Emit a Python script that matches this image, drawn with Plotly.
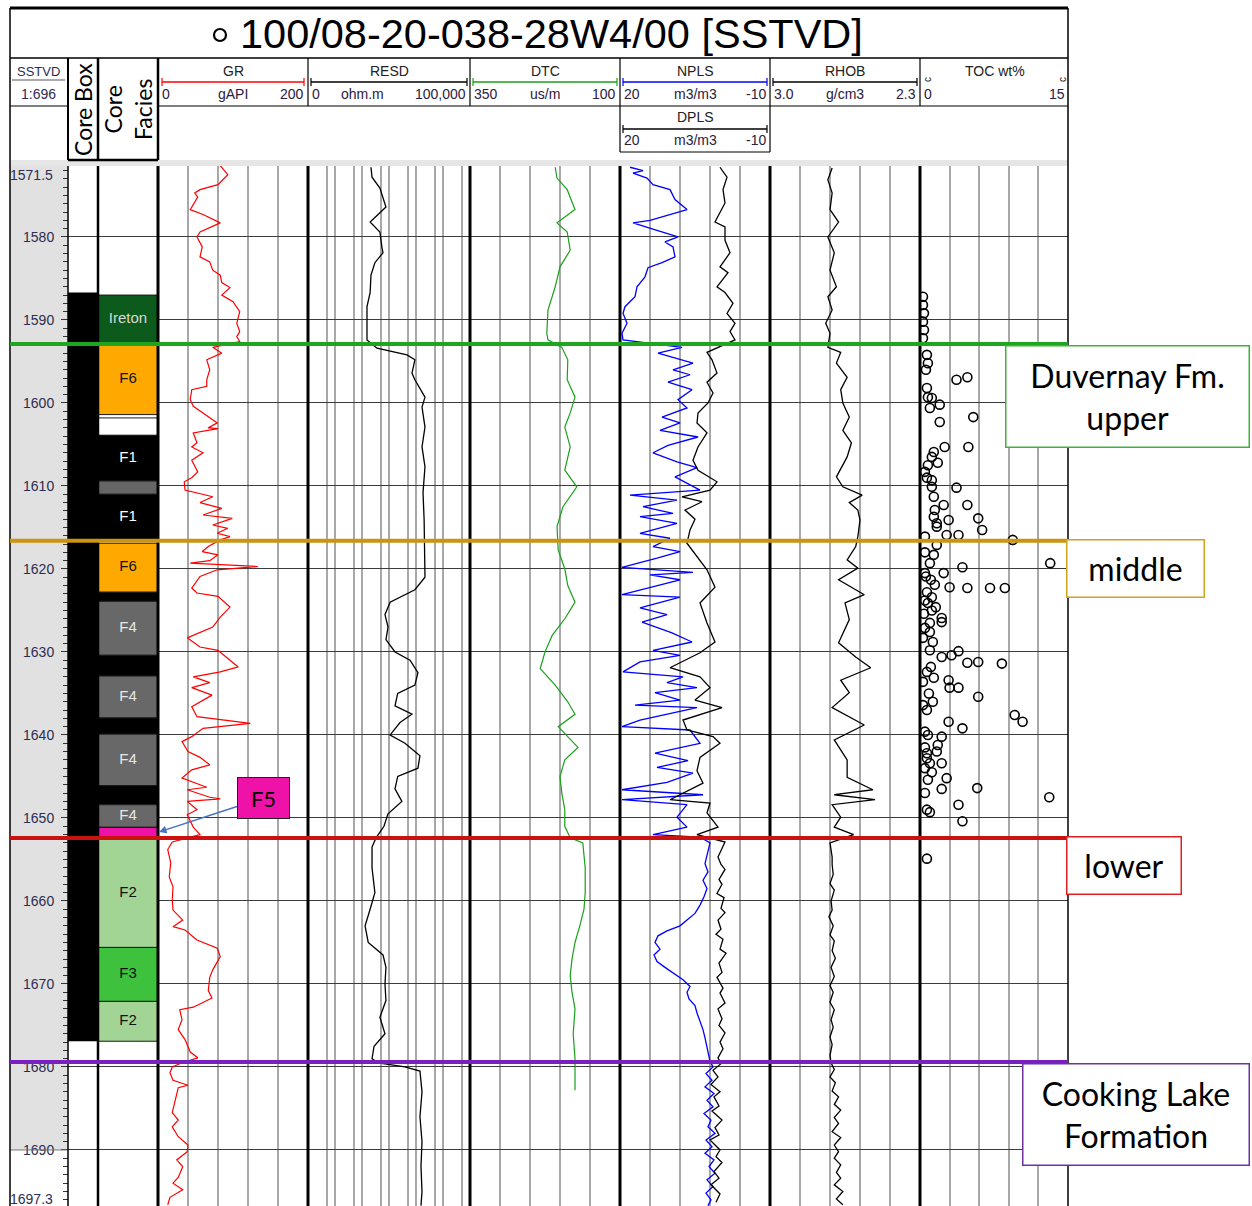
import plotly.graph_objects as go

# ------------------------------------------------------------------
# Well 100/08-20-038-28W4/00 : log tracks vs sub-sea TVD (m)
# ------------------------------------------------------------------

# Gamma ray (gAPI) sampled against depth (m)
gr_samples = [
    (1571.4, 83), (1572.5, 93), (1573.7, 80), (1574.3, 56), (1574.7, 49), (1575.2, 53),
    (1576.7, 43), (1577.3, 60), (1578.3, 83), (1579.4, 56), (1580.0, 52), (1581.2, 59),
    (1582.4, 56), (1583.0, 69), (1584.0, 73), (1584.6, 83), (1585.5, 85), (1586.1, 96),
    (1587.0, 85), (1587.8, 100), (1589.0, 109), (1590.4, 105), (1591.4, 109), (1592.0, 105),
    (1592.6, 109), (1593.3, 73), (1594.0, 85), (1594.8, 65), (1596.0, 69), (1597.2, 65),
    (1598.0, 65), (1598.4, 45), (1599.6, 43), (1600.4, 47), (1601.2, 60), (1602.4, 79),
    (1603.0, 67), (1603.1, 80), (1603.6, 47), (1604.8, 52), (1605.3, 45), (1606.0, 60),
    (1606.9, 45), (1608.3, 53), (1609.0, 45), (1609.5, 35), (1610.5, 36), (1611.1, 63),
    (1611.3, 73), (1612.0, 56), (1612.7, 85), (1613.5, 60), (1613.9, 99), (1614.7, 73),
    (1615.1, 93), (1615.7, 79), (1616.1, 96), (1616.5, 83), (1617.3, 67), (1617.9, 59),
    (1618.3, 80), (1619.0, 69), (1619.3, 43), (1619.7, 133), (1620.1, 79), (1620.9, 56),
    (1622.3, 45), (1622.9, 52), (1623.3, 80), (1624.6, 96), (1625.8, 83), (1627.0, 73),
    (1628.3, 39), (1629.4, 56), (1629.8, 80), (1631.0, 96), (1631.8, 107), (1632.4, 83),
    (1633.0, 47), (1633.7, 69), (1634.3, 45), (1635.2, 72), (1636.6, 45), (1637.8, 52),
    (1638.6, 123), (1639.2, 60), (1640.2, 45), (1640.8, 32), (1642.0, 40), (1642.7, 56),
    (1643.6, 69), (1644.2, 45), (1645.2, 32), (1646.3, 65), (1646.6, 39), (1647.5, 69),
    (1647.7, 83), (1648.0, 39), (1649.0, 52), (1649.6, 39), (1651.1, 47), (1652.0, 56),
    (1652.6, 32), (1652.9, 19), (1653.8, 13), (1655.4, 17), (1657.1, 15), (1658.3, 20),
    (1659.9, 19), (1661.1, 20), (1662.3, 33), (1663.1, 20), (1663.5, 36), (1664.7, 52),
    (1665.7, 79), (1666.7, 83), (1668.3, 73), (1669.2, 69), (1670.8, 67), (1671.7, 72),
    (1672.8, 47), (1673.1, 29), (1674.3, 32), (1675.5, 27), (1676.7, 36), (1678.2, 43),
    (1678.9, 53), (1679.5, 32), (1680.0, 19), (1680.7, 16), (1681.6, 20), (1682.2, 40),
    (1682.5, 27), (1684.0, 23), (1685.5, 19), (1686.4, 27), (1687.2, 19), (1688.4, 27),
    (1689.4, 40), (1690.2, 39), (1691.2, 25), (1692.0, 33), (1693.3, 27), (1694.0, 20),
    (1694.8, 33), (1695.7, 16), (1696.6, 13),
]

# Deep resistivity (ohm.m)
resd_samples = [
    (1571.6, 21.5), (1572.8, 23.5), (1574.1, 46), (1576.4, 77), (1578.2, 20), (1579.4, 46),
    (1581.3, 55), (1581.9, 60), (1583.1, 30), (1584.6, 21.5), (1586.7, 20), (1588.4, 15.3),
    (1592.4, 15.3), (1593.4, 36), (1594.2, 465), (1594.8, 910), (1596.4, 710), (1597.2, 910),
    (1599.3, 2150), (1600.5, 1670), (1602.9, 2150), (1605.3, 1670), (1607.7, 2150),
    (1610.8, 1820), (1614.1, 2000), (1618.6, 2150), (1621.0, 2150), (1622.5, 910),
    (1624.0, 110), (1625.5, 71), (1627.0, 92), (1628.5, 77), (1630.0, 167), (1631.0, 600),
    (1632.5, 1180), (1634.0, 910), (1635.0, 210), (1636.5, 167), (1637.5, 710), (1638.5, 256),
    (1640.0, 110), (1641.0, 390), (1642.5, 1400), (1644.0, 1180), (1645.0, 210), (1646.5, 167),
    (1648.0, 300), (1649.5, 92), (1651.0, 65), (1652.4, 33), (1653.5, 23.5), (1656.0, 23.5),
    (1659.0, 30), (1661.0, 20), (1663.0, 13), (1665.0, 17), (1666.5, 60), (1668.0, 77),
    (1670.0, 71), (1672.0, 77), (1674.0, 46), (1676.0, 71), (1677.5, 28), (1679.0, 23.5),
    (1679.5, 40), (1680.0, 390), (1680.5, 1400), (1683.0, 1670), (1686.0, 1400),
    (1689.0, 1670), (1692.0, 1530), (1695.0, 1670), (1696.7, 1530),
]

# Compressional slowness (us/m)
dtc_samples = [
    (1571.6, 208), (1572.9, 205), (1574.3, 188), (1576.7, 175), (1578.3, 205), (1579.4, 188),
    (1581.6, 183), (1583.6, 200), (1586.0, 208), (1588.8, 220), (1591.6, 222), (1592.4, 220),
    (1593.3, 197), (1594.8, 187), (1597.2, 188), (1599.3, 175), (1601.2, 183), (1602.9, 192),
    (1605.3, 183), (1608.1, 192), (1610.1, 172), (1612.5, 195), (1614.9, 205), (1617.7, 203),
    (1620.0, 192), (1622.0, 187), (1624.0, 175), (1626.0, 192), (1628.0, 213), (1630.0, 225),
    (1632.0, 233), (1634.0, 208), (1636.0, 187), (1637.5, 175), (1639.0, 203), (1640.5, 183),
    (1641.5, 170), (1643.0, 192), (1645.0, 200), (1647.0, 197), (1649.0, 192), (1651.0, 192),
    (1652.4, 183), (1653.0, 162), (1656.0, 158), (1659.0, 158), (1661.0, 160), (1663.0, 167),
    (1665.0, 175), (1667.0, 180), (1669.0, 183), (1671.0, 180), (1673.0, 175), (1676.0, 178),
    (1679.0, 175), (1681.0, 175), (1682.8, 175),
]

# Neutron porosity, limestone (m3/m3 x100)
npls_samples = [
    (1571.6, 18.0), (1572.0, 15.4), (1572.3, 17.4), (1572.9, 14.6), (1573.7, 13.4), (1574.3, 10.0),
    (1575.5, 9.0), (1576.7, 6.6), (1578.0, 14.0), (1578.3, 17.4), (1579.2, 12.6), (1580.0, 8.4),
    (1580.6, 11.0), (1581.2, 9.4), (1582.4, 9.0), (1583.1, 11.6), (1583.7, 14.4), (1584.8, 15.0),
    (1586.0, 16.6), (1587.2, 17.0), (1588.4, 19.0), (1589.2, 19.4), (1590.4, 18.6), (1591.6, 19.6),
    (1592.4, 19.4), (1593.3, 7.6), (1594.0, 12.4), (1594.8, 7.6), (1595.2, 5.4), (1596.0, 9.4),
    (1596.6, 6.0), (1597.5, 10.4), (1598.4, 5.6), (1599.6, 8.4), (1600.6, 6.6), (1601.7, 11.6),
    (1602.4, 8.0), (1603.3, 12.0), (1604.1, 4.4), (1605.1, 10.4), (1606.0, 13.4), (1607.1, 8.6),
    (1607.8, 4.6), (1608.9, 9.0), (1610.5, 4.0), (1611.1, 18.0), (1611.7, 8.6), (1612.5, 15.4),
    (1613.3, 9.4), (1613.7, 16.0), (1614.5, 8.6), (1615.7, 16.0), (1616.3, 10.0), (1617.3, 13.4),
    (1617.9, 8.0), (1618.7, 12.6), (1619.8, 19.6), (1620.4, 5.4), (1620.7, 14.0), (1621.3, 8.0),
    (1623.1, 19.6), (1623.4, 8.0), (1624.7, 16.0), (1625.5, 10.6), (1626.4, 15.6), (1627.7, 9.6),
    (1628.8, 5.6), (1629.8, 13.4), (1630.4, 8.0), (1631.2, 16.0), (1632.4, 19.4), (1633.0, 7.4),
    (1633.7, 10.6), (1634.3, 4.6), (1634.9, 13.0), (1635.8, 8.0), (1636.4, 17.0), (1636.7, 4.6),
    (1638.2, 16.0), (1639.0, 19.6), (1639.4, 6.0), (1641.0, 4.0), (1642.2, 13.0), (1643.1, 6.4),
    (1643.9, 12.6), (1644.6, 5.4), (1645.7, 10.6), (1646.6, 19.6), (1647.2, 3.4), (1647.8, 19.6),
    (1648.4, 6.6), (1649.9, 8.6), (1651.1, 6.6), (1652.0, 13.4), (1652.3, 4.0), (1653.0, 2.0),
    (1654.7, 2.6), (1655.5, 3.0), (1656.5, 2.4), (1657.5, 3.4), (1658.5, 2.6), (1659.5, 3.2),
    (1660.5, 4.0), (1661.5, 5.0), (1662.3, 6.6), (1663.0, 8.0), (1663.6, 10.6), (1664.2, 12.4),
    (1665.0, 13.0), (1665.8, 12.0), (1666.5, 13.2), (1667.3, 12.6), (1668.0, 11.0), (1668.8, 9.0),
    (1669.5, 7.4), (1670.3, 6.0), (1671.0, 6.6), (1671.8, 6.2), (1672.6, 5.0), (1673.5, 4.6),
    (1674.5, 4.0), (1675.5, 3.4), (1676.5, 3.0), (1677.5, 2.6), (1678.5, 2.2), (1679.3, 2.0),
    (1680.0, 1.4), (1680.8, 2.8), (1681.6, 1.6), (1682.4, 3.0), (1683.2, 1.2), (1684.0, 2.6),
    (1684.8, 1.4), (1685.6, 3.2), (1686.4, 1.8), (1687.2, 2.4), (1688.0, 1.0), (1688.8, 2.8),
    (1689.6, 1.6), (1690.4, 3.0), (1691.2, 1.2), (1692.0, 2.2), (1692.8, 1.0), (1693.6, 2.6),
    (1694.4, 1.4), (1695.2, 2.8), (1696.0, 1.8), (1696.7, 2.4),
]

# Density porosity, limestone (m3/m3 x100)
dpls_samples = [
    (1571.6, 0.0), (1572.8, -1.4), (1574.3, -0.6), (1575.9, -1.0), (1578.2, 1.0), (1578.8, -1.0),
    (1580.4, -1.0), (1581.9, -2.0), (1583.6, 0.0), (1584.3, -1.6), (1586.0, 0.6), (1586.7, -1.0),
    (1588.0, -2.6), (1589.2, -1.4), (1590.4, -3.0), (1591.4, -2.0), (1592.4, -3.0), (1593.9, 2.6),
    (1594.8, 1.6), (1596.4, 0.6), (1597.5, 2.6), (1598.8, 1.4), (1600.0, 2.4), (1601.2, 4.4),
    (1602.4, 4.6), (1603.6, 2.6), (1605.3, 4.4), (1606.9, 5.4), (1608.1, 4.4), (1609.5, 0.6),
    (1610.5, 2.0), (1611.3, 7.6), (1611.9, 3.6), (1612.9, 7.0), (1614.0, 5.0), (1615.3, 6.0),
    (1616.9, 6.6), (1618.9, 4.0), (1620.1, 2.6), (1622.2, 1.0), (1624.1, 4.0), (1626.5, 2.6),
    (1628.8, 1.0), (1630.1, 4.0), (1631.9, 10.0), (1633.0, 4.0), (1634.3, 2.0), (1635.8, 5.0),
    (1636.7, -0.4), (1638.2, 7.4), (1639.4, 6.6), (1640.2, 1.4), (1641.0, 0.0), (1642.7, 4.0),
    (1644.3, 4.6), (1645.8, 3.4), (1647.8, 10.0), (1648.2, 2.0), (1649.4, 2.6), (1651.1, 0.4),
    (1652.0, 4.6), (1652.9, -1.0), (1654.7, 0.4), (1655.6, -0.2), (1656.2, -1.0), (1657.4, 0.2),
    (1658.0, -0.4), (1659.1, 0.6), (1659.6, -0.8), (1660.9, -0.2), (1661.4, -1.0), (1662.3, 0.4),
    (1663.4, -0.2), (1664.0, 0.8), (1664.6, -0.6), (1665.8, 0.0), (1666.3, -1.2), (1667.5, 0.2),
    (1668.6, -0.4), (1669.2, 0.6), (1670.5, -0.6), (1671.1, 0.0), (1672.3, -1.0), (1673.0, 0.4),
    (1674.2, -0.4), (1675.0, 0.2), (1675.9, -1.0), (1677.0, 0.0), (1677.8, -0.6), (1678.9, 0.4),
    (1679.6, -0.2), (1680.4, 1.4), (1681.2, 0.4), (1682.1, 1.8), (1683.0, 0.0), (1683.6, 1.2),
    (1684.7, 0.2), (1685.3, 1.6), (1686.4, -0.4), (1687.3, 1.0), (1688.2, 0.2), (1688.8, 2.0),
    (1690.0, 0.0), (1690.8, 0.8), (1691.5, -0.4), (1692.6, 1.2), (1693.4, 0.2), (1694.2, 1.8),
    (1695.3, 0.0), (1696.3, 0.8),
]

# Bulk density (g/cm3)
rhob_samples = [
    (1571.7, 2.71), (1573.1, 2.73), (1574.7, 2.71), (1576.7, 2.72), (1578.2, 2.68), (1580.0, 2.73),
    (1581.9, 2.70), (1584.0, 2.72), (1586.0, 2.69), (1587.2, 2.73), (1588.8, 2.71), (1590.4, 2.74),
    (1591.6, 2.72), (1593.3, 2.73), (1593.9, 2.67), (1595.2, 2.69), (1596.9, 2.64), (1598.4, 2.67),
    (1600.0, 2.66), (1601.7, 2.63), (1603.3, 2.66), (1604.8, 2.62), (1606.5, 2.64), (1608.9, 2.69),
    (1610.1, 2.66), (1611.1, 2.57), (1612.0, 2.63), (1612.9, 2.59), (1614.1, 2.58), (1616.1, 2.59),
    (1617.3, 2.60), (1618.9, 2.64), (1619.9, 2.59), (1621.3, 2.68), (1623.1, 2.56), (1624.1, 2.65),
    (1626.1, 2.63), (1628.9, 2.68), (1630.6, 2.60), (1631.9, 2.53), (1633.4, 2.67), (1634.9, 2.63),
    (1636.7, 2.71), (1638.8, 2.56), (1640.6, 2.70), (1643.0, 2.64), (1645.1, 2.64), (1646.6, 2.52),
    (1647.2, 2.70), (1647.8, 2.51), (1648.4, 2.71), (1649.9, 2.67), (1651.1, 2.70), (1652.0, 2.61),
    (1653.0, 2.72), (1654.7, 2.71), (1655.6, 2.71), (1656.8, 2.705), (1657.9, 2.72), (1658.7, 2.70),
    (1660.0, 2.715), (1661.1, 2.71), (1661.9, 2.725), (1663.0, 2.705), (1664.1, 2.72), (1664.8, 2.70),
    (1666.0, 2.71), (1666.9, 2.695), (1668.0, 2.715), (1669.1, 2.70), (1670.2, 2.72), (1671.0, 2.705),
    (1672.2, 2.72), (1673.1, 2.70), (1674.3, 2.715), (1675.2, 2.705), (1676.4, 2.72), (1677.3, 2.71),
    (1678.6, 2.72), (1679.5, 2.715), (1680.3, 2.70), (1681.2, 2.72), (1681.9, 2.695), (1682.9, 2.71),
    (1683.6, 2.68), (1684.5, 2.70), (1685.2, 2.67), (1686.1, 2.70), (1686.8, 2.68), (1687.8, 2.71),
    (1688.5, 2.67), (1689.4, 2.70), (1690.2, 2.68), (1691.0, 2.70), (1691.8, 2.67), (1692.7, 2.69),
    (1693.4, 2.67), (1694.2, 2.70), (1695.0, 2.66), (1695.9, 2.69), (1696.6, 2.66),
]

# Core TOC (wt%)
toc_samples = [
    (1587.2, 0.3), (1588.2, 0.3), (1589.2, 0.4), (1590.2, 0.3), (1591.2, 0.4), (1592.2, 0.3),
    (1594.2, 0.7), (1595.2, 0.8), (1596.0, 0.6), (1597.2, 3.7), (1596.9, 4.8), (1598.2, 0.7),
    (1599.3, 0.8), (1599.4, 1.2), (1600.2, 2.0), (1600.6, 1.0), (1601.7, 5.4), (1602.3, 2.0),
    (1605.3, 2.5), (1605.3, 4.9), (1605.9, 1.4), (1606.5, 1.2), (1607.2, 1.8), (1607.5, 0.8),
    (1608.3, 0.5), (1609.0, 0.7), (1609.3, 1.2), (1610.1, 1.2), (1610.2, 3.7), (1611.3, 1.4),
    (1612.3, 4.8), (1612.3, 2.4), (1612.9, 1.5), (1613.7, 1.4), (1614.1, 2.9), (1613.9, 5.9),
    (1614.5, 1.7), (1615.3, 6.3), (1615.9, 2.7), (1615.9, 3.9), (1614.9, 1.7), (1616.1, 0.5),
    (1616.5, 9.4), (1617.1, 1.7), (1618.0, 0.5), (1618.3, 1.4), (1619.3, 1.0), (1619.8, 4.3),
    (1619.3, 13.2), (1620.5, 2.4), (1620.5, 0.5), (1620.9, 0.6), (1621.3, 1.1), (1621.9, 1.5),
    (1622.2, 3.0), (1622.3, 4.8), (1622.3, 7.1), (1622.3, 8.6), (1622.8, 0.7), (1623.4, 1.2),
    (1623.8, 0.5), (1624.1, 0.8), (1624.6, 1.6), (1625.0, 1.2), (1625.4, 0.4), (1625.9, 2.2),
    (1626.4, 2.2), (1626.5, 1.0), (1627.1, 0.5), (1627.6, 1.0), (1628.3, 0.3), (1628.8, 1.3),
    (1629.8, 1.0), (1630.6, 2.2), (1630.4, 3.2), (1629.9, 3.9), (1631.3, 4.8), (1631.2, 5.9),
    (1631.4, 8.3), (1631.8, 1.1), (1632.4, 0.7), (1633.1, 1.4), (1633.6, 0.3), (1633.4, 2.9),
    (1634.3, 3.0), (1634.3, 3.9), (1635.0, 0.9), (1635.4, 5.9), (1636.0, 1.3), (1636.4, 0.3),
    (1637.0, 0.7), (1637.6, 9.6), (1638.4, 10.4), (1638.4, 2.9), (1639.2, 4.3), (1639.6, 0.5),
    (1640.0, 0.8), (1640.2, 2.2), (1641.2, 1.8), (1641.5, 0.5), (1642.0, 1.7), (1642.2, 0.7),
    (1642.8, 0.7), (1643.4, 2.2), (1643.4, 1.0), (1644.0, 0.5), (1644.5, 1.2), (1645.2, 2.7),
    (1645.4, 0.8), (1646.4, 5.8), (1646.5, 2.2), (1647.0, 0.5), (1647.5, 13.1), (1648.4, 3.9),
    (1649.0, 0.7), (1649.3, 1.0), (1650.4, 4.3), (1654.9, 0.7),
]

# Core facies intervals: label, top, base (m)
facies_label = ["Ireton", "F6", "", "F1", "", "F1", "F6", "", "F4", "", "F4", "", "F4", "",
                "F4", "F5", "F2", "F3", "F2"]
facies_top = [1587.0, 1592.9, 1601.8, 1603.9, 1609.4, 1611.0, 1616.9, 1622.8, 1623.9, 1630.4,
              1632.9, 1637.95, 1639.9, 1646.1, 1648.4, 1651.15, 1652.5, 1665.6, 1672.1]
facies_base = [1592.9, 1601.4, 1603.9, 1609.4, 1611.0, 1616.6, 1622.8, 1623.9, 1630.4, 1632.9,
               1637.95, 1639.9, 1646.1, 1648.4, 1651.1, 1652.3, 1665.6, 1672.1, 1676.9]
facies_fill = ["#0c5a1c", "#ffa800", "#ffffff", "#000000", "#666666", "#000000", "#ffa800",
               "#000000", "#686868", "#000000", "#686868", "#000000", "#686868", "#000000",
               "#686868", "#ee12a8", "#a2d495", "#3ec23e", "#a2d495"]
facies_ink = ["#d8d8d8", "#111111", "#111111", "#ffffff", "#ffffff", "#ffffff", "#111111",
              "#ffffff", "#e6e6e6", "#ffffff", "#e6e6e6", "#ffffff", "#e6e6e6", "#ffffff",
              "#e6e6e6", "#111111", "#111111", "#111111", "#111111"]

# Cored interval (core box column)
core_top, core_base = 1586.7, 1676.9

# Formation tops
top_names = ["Duvernay Fm.<br>upper", "middle", "lower", "Cooking Lake<br>Formation"]
top_depths = [1592.9, 1616.6, 1652.4, 1679.4]
top_line_colors = ["#1fa51f", "#c99512", "#cc1111", "#7a1fc0"]
top_box_colors = ["#3cb43c", "#d4a020", "#e02020", "#7030a0"]

depth_ticks = list(range(1580, 1700, 10))

# ------------------------------------------------------------------
W, H = 1252, 1206


def fx(x):
    return x / W


def fy(y):
    return 1 - y / H


DEPTH_RANGE = [1696.75, 1571.45]
PLOT_TOP = 166

# track edges (px)
T_CORE = (68, 98)
T_FAC = (98, 158)
T_GR = (158, 308)
T_RES = (308, 470)
T_DTC = (470, 620)
T_NPL = (620, 770)
T_RHO = (770, 920)
T_TOC = (920, 1068)

HDR_FONT = "Liberation Sans, Arial, sans-serif"
BOX_FONT = "Lato, Open Sans, sans-serif"


def unzip(samples):
    return [s[0] for s in samples], [s[1] for s in samples]


fig = go.Figure()

d, v = unzip(gr_samples)
fig.add_trace(go.Scatter(x=v, y=d, mode="lines", line=dict(color="#ff0000", width=1.2),
                         xaxis="x", yaxis="y", hoverinfo="skip"))
d, v = unzip(resd_samples)
fig.add_trace(go.Scatter(x=v, y=d, mode="lines", line=dict(color="#000000", width=1.3),
                         xaxis="x2", yaxis="y", hoverinfo="skip"))
d, v = unzip(dtc_samples)
fig.add_trace(go.Scatter(x=v, y=d, mode="lines", line=dict(color="#1aa01a", width=1.2),
                         xaxis="x3", yaxis="y", hoverinfo="skip"))
d, v = unzip(npls_samples)
fig.add_trace(go.Scatter(x=v, y=d, mode="lines", line=dict(color="#0000ff", width=1.3),
                         xaxis="x4", yaxis="y", hoverinfo="skip"))
d, v = unzip(dpls_samples)
fig.add_trace(go.Scatter(x=v, y=d, mode="lines", line=dict(color="#000000", width=1.3),
                         xaxis="x5", yaxis="y", hoverinfo="skip"))
d, v = unzip(rhob_samples)
fig.add_trace(go.Scatter(x=v, y=d, mode="lines", line=dict(color="#000000", width=1.3),
                         xaxis="x6", yaxis="y", hoverinfo="skip"))
d, v = unzip(toc_samples)
fig.add_trace(go.Scatter(x=v, y=d, mode="markers",
                         marker=dict(symbol="circle-open", size=9, color="#000000",
                                     line=dict(width=1.6)),
                         xaxis="x7", yaxis="y", hoverinfo="skip"))

# core facies column
fig.add_trace(go.Bar(x=[0] * len(facies_top),
                     y=[b - t for t, b in zip(facies_top, facies_base)],
                     base=facies_top, width=1,
                     marker=dict(color=facies_fill, line=dict(color="#1a1a1a", width=1)),
                     xaxis="x8", yaxis="y", hoverinfo="skip"))
lab_y, lab_t, lab_c = [], [], []
for lab, t, b, c in zip(facies_label, facies_top, facies_base, facies_ink):
    if lab and b - t > 2:
        lab_y.append((t + b) / 2)
        lab_t.append(lab)
        lab_c.append(c)
fig.add_trace(go.Scatter(x=[0] * len(lab_y), y=lab_y, text=lab_t, mode="text",
                         textfont=dict(family=HDR_FONT, size=15, color=lab_c),
                         xaxis="x8", yaxis="y", hoverinfo="skip"))

# core box column
fig.add_trace(go.Bar(x=[0], y=[core_base - core_top], base=[core_top], width=1,
                     marker=dict(color="#000000", line=dict(width=0)),
                     xaxis="x9", yaxis="y", hoverinfo="skip"))


def xax(edges, **kw):
    a = dict(domain=[fx(edges[0]), fx(edges[1])], anchor="y", showticklabels=False,
             ticks="", zeroline=False, showline=False, showgrid=True,
             gridcolor="#a8a8a8", gridwidth=1.5, fixedrange=True)
    a.update(kw)
    return a


fig.update_layout(
    width=W, height=H, margin=dict(l=0, r=0, t=0, b=0),
    paper_bgcolor="white", plot_bgcolor="white", showlegend=False,
    hovermode=False, barmode="overlay",
    xaxis=xax(T_GR, range=[0, 200], tickmode="array", tickvals=[40, 80, 120, 160]),
    xaxis2=xax(T_RES, type="log", range=[-1, 5], tickmode="array",
               tickvals=[0.5, 1, 5, 10, 50, 100, 500, 1000, 5000, 10000, 50000]),
    xaxis3=xax(T_DTC, range=[350, 100], tickmode="array", tickvals=[300, 250, 200, 150]),
    xaxis4=xax(T_NPL, range=[20, -10], tickmode="array", tickvals=[14, 8, 2, -4]),
    xaxis5=dict(overlaying="x4", anchor="y", range=[20, -10], showgrid=False,
                showticklabels=False, ticks="", zeroline=False, showline=False),
    xaxis6=xax(T_RHO, range=[3.0, 2.3], tickmode="array", tickvals=[2.86, 2.72, 2.58, 2.44]),
    xaxis7=xax(T_TOC, range=[0, 15], tickmode="array", tickvals=[3, 6, 9, 12]),
    xaxis8=xax(T_FAC, range=[-0.5, 0.5], showgrid=False),
    xaxis9=xax(T_CORE, range=[-0.5, 0.5], showgrid=False),
    yaxis=dict(domain=[0, fy(PLOT_TOP)], range=DEPTH_RANGE, anchor="free",
               position=fx(68), side="left", tickmode="array", tickvals=depth_ticks,
               ticks="outside", ticklen=7, tickwidth=1.3, tickcolor="#333333",
               minor=dict(tickmode="linear", tick0=1570, dtick=1, ticks="outside",
                          ticklen=5, tickwidth=1, tickcolor="#333333", showgrid=False),
               showgrid=True, gridcolor="#3c3c3c", gridwidth=1.4, zeroline=False,
               showline=False, ticklabelstandoff=4, fixedrange=True,
               tickfont=dict(family=HDR_FONT, size=14, color="#2d2d52")),
)

shapes = []


def line(x0, y0, x1, y1, color="#000", width=1.2, layer="above"):
    shapes.append(dict(type="line", xref="paper", yref="paper", x0=fx(x0), y0=fy(y0),
                       x1=fx(x1), y1=fy(y1), line=dict(color=color, width=width), layer=layer))


# depth column background and header band
shapes.append(dict(type="rect", xref="paper", yref="y", x0=fx(10), x1=fx(68),
                   y0=DEPTH_RANGE[1], y1=1690, fillcolor="#e1e1e1",
                   line=dict(width=0), layer="below"))
shapes.append(dict(type="line", xref="paper", yref="y", x0=fx(10), x1=fx(68),
                   y0=1690, y1=1690, line=dict(color="#777777", width=1), layer="above"))
shapes.append(dict(type="rect", xref="paper", yref="paper", x0=fx(10), x1=fx(1068),
                   y0=fy(166), y1=fy(160), fillcolor="#e6e6e6", line=dict(width=0),
                   layer="below"))

# outer frame and title row
line(10, 8, 1068, 8, width=3)
line(10, 8, 10, 1206, width=1.5)
line(1068, 8, 1068, 1206, width=1.5)
line(10, 58, 1068, 58, width=1.5)

# header grid
line(10, 106, 68, 106, width=1.2)
line(158, 106, 1068, 106, width=1.2)
for xx in (308, 470, 620, 770, 920):
    line(xx, 58, xx, 106, width=1.2)
line(620, 106, 620, 152, width=1.2)
line(770, 106, 770, 152, width=1.2)
line(620, 152, 770, 152, width=1.2)
line(68, 160, 158, 160, width=2.5)
line(68, 58, 68, 160, width=2)
line(98, 58, 98, 160, width=2.5)
line(158, 58, 158, 160, width=2.5)
line(12, 80, 65, 80, color="#555", width=1)

# track borders
line(68, 166, 68, 1206, width=1.5)
line(98, 166, 98, 1206, width=2.5)
for xx in (158, 308, 470, 620, 770, 920):
    line(xx, 166, xx, 1206, width=3)


# scale bars
def scale_bar(x0, x1, y, color):
    line(x0, y, x1, y, color=color, width=1.5)
    line(x0, y - 4, x0, y + 4, color=color, width=1.2)
    line(x1, y - 4, x1, y + 4, color=color, width=1.2)


scale_bar(162, 304, 82, "#ff0000")
scale_bar(311, 467, 82, "#000000")
scale_bar(473, 617, 82, "#1aa01a")
scale_bar(623, 767, 82, "#0000ff")
scale_bar(773, 917, 82, "#000000")
scale_bar(623, 767, 129, "#000000")

# title bullet
shapes.append(dict(type="circle", xref="paper", yref="paper", x0=fx(214), x1=fx(226),
                   y0=fy(41), y1=fy(29), line=dict(color="#000", width=2.2)))

# formation tops
for dep, col in zip(top_depths, top_line_colors):
    shapes.append(dict(type="line", xref="paper", yref="y", x0=fx(10), x1=fx(1068),
                       y0=dep, y1=dep, line=dict(color=col, width=4), layer="above"))

fig.update_layout(shapes=shapes)

ann = []


def text(x, y, s, size=14, color="#222222", xanchor="center", family=HDR_FONT, angle=0):
    ann.append(dict(x=fx(x), y=fy(y), xref="paper", yref="paper", text=s, showarrow=False,
                    xanchor=xanchor, yanchor="middle", textangle=angle,
                    font=dict(family=family, size=size, color=color)))


text(551, 33, "100/08-20-038-28W4/00 [SSTVD]", size=41.5, color="#000")
text(38, 71, "SSTVD", size=13, color="#2d2d52")
text(38, 94, "1:696", size=14, color="#2d2d52")
NUM = "#2a2040"
for name, cx, l, unit, r in [("GR", 233, "0", "gAPI", "200"),
                             ("RESD", 389, "0", "ohm.m", "100,000"),
                             ("DTC", 545, "350", "us/m", "100"),
                             ("NPLS", 695, "20", "m3/m3", "-10"),
                             ("RHOB", 845, "3.0", "g/cm3", "2.3")]:
    half = 75 if name != "RESD" else 81
    text(cx, 71, name, size=14)
    text(cx - half + 2, 94, l, size=14, color=NUM, xanchor="left")
    text(cx if name != "RESD" else 362, 94, unit, size=14, color=NUM)
    text(cx + half - 2, 94, r, size=14, color=NUM, xanchor="right")
text(695, 117, "DPLS", size=14)
text(622, 140, "20", size=14, color=NUM, xanchor="left")
text(695, 140, "m3/m3", size=14, color=NUM)
text(768, 140, "-10", size=14, color=NUM, xanchor="right")
text(995, 71, "TOC wt%", size=14)
text(922, 94, "0", size=14, color=NUM, xanchor="left")
text(1067, 94, "15", size=14, color=NUM, xanchor="right")
text(927, 80, "c", size=10, angle=-90)
text(1062, 80, "c", size=10, angle=-90)
text(83, 110, "Core Box", size=23, color="#000", family=BOX_FONT, angle=-90)
text(128, 110, "Core<br>Facies", size=23, color="#000", family=BOX_FONT, angle=-90)
text(55, 175, "1571.5", size=14, color="#2d2d52", xanchor="right")
text(55, 1199, "1697.3", size=14, color="#2d2d52", xanchor="right")

# formation labels
box_px = [(1005, 345, 1250, 448), (1066, 539, 1205, 598),
          (1066, 836, 1182, 895), (1022, 1063, 1250, 1166)]
for name, col, (x0, y0, x1, y1) in zip(top_names, top_box_colors, box_px):
    ann.append(dict(x=fx(x0), y=fy(y0), xref="paper", yref="paper", xanchor="left",
                    yanchor="top", text=name, showarrow=False, align="center",
                    valign="middle", width=x1 - x0 - 3, height=y1 - y0 - 3,
                    bgcolor="white", bordercolor=col, borderwidth=1.5, borderpad=0,
                    font=dict(family=BOX_FONT, size=32, color="#000")))

# F5 callout
f5 = facies_label.index("F5")
ann.append(dict(x=fx(159), y=fy(832), xref="paper", yref="paper", text=facies_label[f5],
                showarrow=True, ax=104, ay=-34, arrowcolor="#4472c4", arrowwidth=1.5,
                arrowhead=2, arrowsize=1, standoff=0, bgcolor=facies_fill[f5],
                bordercolor="#222", borderwidth=1, width=51, height=40, borderpad=0,
                font=dict(family=BOX_FONT, size=22, color="#000")))

fig.update_layout(annotations=ann)

fig.write_html("out.html", config={"displayModeBar": False})
